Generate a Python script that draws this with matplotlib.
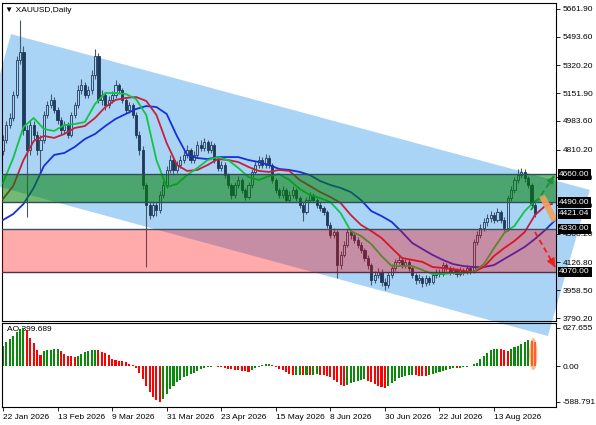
import numpy as np
import matplotlib
matplotlib.use("Agg")
import matplotlib.pyplot as plt
from matplotlib.patches import Polygon, Ellipse

plt.rcParams["font.family"] = ["Liberation Sans", "DejaVu Sans"]

# daily candles, 22 Jan 2026 .. end of Aug 2026 (weekdays)
first_open = 4800
closes = [4870, 4960, 5000, 5140, 5350, 5400, 4930, 4810, 4960, 4900,
          4810, 4870, 5020, 5080, 5110, 5050, 4990, 4930, 4960, 4900,
          5020, 5080, 5170, 5200, 5140, 5170, 5260, 5380, 5110, 5140,
          5080, 5110, 5140, 5200, 5170, 5110, 5050, 5080, 5020, 4900,
          4810, 4595, 4475, 4415, 4475, 4444, 4535, 4595, 4687, 4747,
          4687, 4717, 4747, 4777, 4808, 4747, 4777, 4838, 4820, 4856,
          4808, 4838, 4747, 4700, 4717, 4657, 4595, 4535, 4595, 4626,
          4566, 4523, 4595, 4675, 4717, 4747, 4717, 4760, 4717, 4626,
          4566, 4535, 4566, 4505, 4535, 4566, 4517, 4475, 4432, 4505,
          4535, 4505, 4475, 4456, 4432, 4353, 4293, 4311, 4110, 4172,
          4232, 4311, 4293, 4263, 4232, 4202, 4154, 4111, 4020, 4050,
          4069, 4008, 3990, 4050, 4093, 4130, 4142, 4111, 4130, 4093,
          4050, 4020, 4032, 4002, 4032, 4008, 4050, 4069, 4057, 4111,
          4093, 4069, 4081, 4057, 4081, 4069, 4093, 4069, 4250, 4293,
          4335, 4372, 4396, 4414, 4384, 4432, 4384, 4335, 4517, 4566,
          4626, 4657, 4675, 4638, 4595, 4475, 4421.04]
highs = [4900, 4985, 5030, 5165, 5380, 5595, 5440, 4960, 4990, 4985,
         4925, 4900, 5045, 5105, 5150, 5130, 5070, 5010, 4985, 4980,
         5040, 5100, 5200, 5240, 5220, 5195, 5290, 5420, 5395, 5170,
         5160, 5135, 5165, 5230, 5215, 5185, 5125, 5100, 5095, 5040,
         4920, 4830, 4610, 4500, 4500, 4490, 4560, 4620, 4710, 4775,
         4760, 4740, 4770, 4800, 4840, 4820, 4800, 4860, 4870, 4880,
         4870, 4860, 4850, 4760, 4740, 4735, 4670, 4610, 4615, 4650,
         4640, 4580, 4615, 4695, 4740, 4770, 4765, 4785, 4775, 4730,
         4640, 4580, 4590, 4580, 4560, 4590, 4580, 4530, 4490, 4525,
         4555, 4550, 4520, 4490, 4470, 4445, 4370, 4335, 4325, 4195,
         4255, 4330, 4325, 4305, 4280, 4250, 4215, 4170, 4125, 4075,
         4095, 4085, 4030, 4070, 4115, 4150, 4170, 4160, 4150, 4145,
         4105, 4065, 4055, 4045, 4050, 4045, 4065, 4090, 4085, 4130,
         4125, 4105, 4100, 4095, 4100, 4095, 4110, 4105, 4270, 4315,
         4360, 4395, 4420, 4440, 4430, 4455, 4445, 4400, 4535, 4590,
         4645, 4690, 4700, 4690, 4650, 4610, 4490]
lows = [4780, 4850, 4940, 4985, 5120, 5330, 4900, 4400, 4780, 4870,
        4780, 4670, 4850, 5000, 5060, 5030, 4965, 4900, 4910, 4880,
        4885, 5000, 5060, 5150, 5120, 5120, 5150, 5240, 5090, 5080,
        5050, 5060, 5090, 5120, 5145, 5090, 5030, 5030, 5000, 4880,
        4780, 4570, 4100, 4390, 4400, 4410, 4425, 4515, 4580, 4670,
        4665, 4670, 4700, 4730, 4760, 4730, 4730, 4760, 4800, 4800,
        4790, 4790, 4730, 4680, 4680, 4640, 4575, 4510, 4520, 4575,
        4545, 4505, 4510, 4580, 4660, 4700, 4700, 4700, 4700, 4610,
        4550, 4515, 4520, 4490, 4490, 4520, 4500, 4455, 4380, 4420,
        4490, 4490, 4455, 4440, 4415, 4335, 4275, 4275, 4030, 4090,
        4160, 4220, 4270, 4245, 4215, 4185, 4135, 4090, 3990, 4000,
        4030, 3985, 3960, 3975, 4035, 4075, 4115, 4095, 4095, 4075,
        4030, 3995, 4000, 3980, 3985, 3990, 3995, 4035, 4040, 4045,
        4075, 4050, 4055, 4040, 4045, 4050, 4055, 4055, 4060, 4230,
        4275, 4320, 4350, 4370, 4365, 4370, 4365, 4320, 4320, 4500,
        4550, 4610, 4640, 4615, 4575, 4455, 4400]

# alligator lines (read every 3 bars, shifted forward past the last bar)
lips_bars = list(range(0, 160, 3))
lips = [4608, 4759, 4947, 5002, 4935, 4923, 4959, 4965, 4977, 5087,
        5153, 5153, 5147, 5117, 5020, 4747, 4584, 4602, 4656, 4699,
        4747, 4765, 4747, 4699, 4644, 4626, 4650, 4662, 4626, 4572,
        4535, 4517, 4493, 4426, 4317, 4287, 4238, 4166, 4105, 4105,
        4105, 4081, 4057, 4057, 4063, 4063, 4069, 4117, 4214, 4305,
        4348, 4438, 4499, 4529]
teeth_bars = list(range(0, 160, 3)) + [161]
teeth = [4511, 4590, 4747, 4862, 4893, 4881, 4905, 4941, 4953, 5002,
         5068, 5111, 5123, 5129, 5105, 5020, 4850, 4717, 4681, 4687,
         4717, 4753, 4747, 4735, 4705, 4681, 4675, 4687, 4681, 4626,
         4590, 4553, 4523, 4487, 4414, 4354, 4317, 4275, 4214, 4154,
         4142, 4130, 4099, 4093, 4087, 4075, 4069, 4099, 4166, 4214,
         4257, 4311, 4414, 4469, 4481]
jaw_bars = list(range(0, 163, 3)) + [164]
jaw = [4384, 4420, 4481, 4578, 4711, 4778, 4790, 4826, 4874, 4905,
       4953, 4996, 5026, 5056, 5074, 5068, 5026, 4893, 4778, 4759,
       4753, 4765, 4765, 4765, 4747, 4735, 4717, 4693, 4687, 4675,
       4656, 4620, 4596, 4578, 4553, 4505, 4438, 4408, 4372, 4311,
       4245, 4208, 4172, 4142, 4117, 4105, 4099, 4099, 4111, 4148,
       4184, 4221, 4269, 4323, 4384, 4420]

ao = [324, 394, 443, 502, 562, 610, 627.655, 600, 459, 378,
      259, 189, 243, 259, 270, 275, 286, 243, 205, 173,
      162, 146, 173, 200, 227, 243, 259, 270, 259, 232,
      216, 189, 108, 92, 90, 81, 65, 38, 11, -27,
      -108, -216, -324, -432, -513, -567, -588.791, -540, -459, -378,
      -324, -270, -232, -189, -162, -135, -108, -81, -54, -38,
      -22, -11, -3, -11, -16, -27, -43, -54, -65, -70,
      -76, -81, -92, -65, -38, -16, 11, 27, 36, 22,
      -11, -43, -70, -97, -124, -151, -148, -146, -150, -144,
      -147, -140, -138, -146, -151, -162, -189, -227, -270, -313,
      -335, -313, -281, -259, -243, -227, -216, -243, -270, -297,
      -324, -340, -362, -324, -281, -243, -205, -178, -162, -151,
      -146, -151, -158, -162, -164, -150, -135, -119, -97, -81,
      -65, -54, -38, -40, -27, -16, -11, 2, 27, 54,
      108, 162, 216, 259, 281, 284, 278, 270, 254, 281,
      313, 335, 362, 389, 425, 412, 399.689]

date_ticks = [0, 16, 32, 48, 64, 80, 96, 112, 128, 144]
date_labels = ["22 Jan 2026", "13 Feb 2026", "9 Mar 2026", "31 Mar 2026",
               "23 Apr 2026", "15 May 2026", "8 Jun 2026", "30 Jun 2026",
               "22 Jul 2026", "13 Aug 2026"]
price_ticks = [5661.90, 5493.60, 5320.20, 5151.90, 4983.60, 4810.20,
               4641.90, 4473.60, 4300.20, 4126.80, 3958.50, 3790.20]
ao_ticks = [627.655, 0.0, -588.791]
ao_tick_labels = ["627.655", "0.00", "-588.791"]

green_zone = (4490, 4660)
red_zone = (4070, 4330)
level_labels = [4660.00, 4490.00, 4421.04, 4330.00, 4070.00]

channel_bars = [2.35, 172.1, 159.8, -9.4]
channel_prices = [5510, 4566, 3681, 4632]

up_arrow = ((154.8, 4444), (161.6, 4650))
orange_arrow = ((158.1, 4529), (161.9, 4378))
down_arrow = ((156.0, 4311), (161.9, 4099))

n = len(closes)
x = np.arange(n)
c = np.array(closes, dtype=float)
o = np.array([first_open] + closes[:-1], dtype=float)
h = np.array(highs, dtype=float)
l = np.array(lows, dtype=float)

chan_col = "#aad4f6"
navy = "#1f3a5a"
fs = 6

fig = plt.figure(figsize=(5.96, 4.25), dpi=100)
ax = fig.add_axes([2/596, 104/425, 554/596, 318/425])
ax2 = fig.add_axes([2/596, 18/425, 554/596, 84/425])
xl = (-0.29, 162.17)

# channel, drawn past the right edge like the original picture
chan = Polygon(list(zip(channel_bars, channel_prices)), closed=True,
               facecolor=chan_col, edgecolor="none", zorder=0.5, clip_on=False)
ax.add_patch(chan)

# candles
ax.vlines(x, l, h, color="#45586c", lw=0.8, zorder=2)
up = c >= o
body = np.where(np.abs(c - o) < 3, 3, c - o)
ax.bar(x[up], body[up], bottom=o[up], width=0.62, facecolor=chan_col,
       edgecolor=navy, lw=0.6, zorder=2.1)
ax.bar(x[~up], body[~up], bottom=o[~up], width=0.62, facecolor=navy,
       edgecolor=navy, lw=0.6, zorder=2.1)

ax.plot(jaw_bars, jaw, color="#1a2fd8", lw=1.3, zorder=3)
ax.plot(teeth_bars, teeth, color="#c8203c", lw=1.3, zorder=3)
ax.plot(lips_bars, lips, color="#12c444", lw=1.3, zorder=3)

# zones on top, see-through
ax.axhspan(*green_zone, color="#008000", alpha=0.55, lw=0, zorder=5)
ax.axhspan(*red_zone, color="#ff0000", alpha=0.33, lw=0, zorder=5)
for lev, col in [(4660, "#2c4f58"), (4490, "#2c4f58"), (4330, "#404e5c"), (4070, "#5a2a3e")]:
    ax.axhline(lev, color=col, lw=1.0, zorder=6)

# arrows
(a0, a1) = up_arrow
ax.plot([a0[0], a1[0]], [a0[1], a1[1]], ls=(0, (3, 2)), color="#1f8f3a", lw=1.3, zorder=7)
ax.annotate("", xy=a1, xytext=(a1[0] - 0.8, a1[1] - 24),
            arrowprops=dict(arrowstyle="-|>", color="#1f8f3a", lw=1.2, mutation_scale=10),
            zorder=7, annotation_clip=False)
(b0, b1) = orange_arrow
ax.plot([b0[0], b1[0]], [b0[1], b1[1]], color="#f2a05c", lw=4.5, alpha=0.9,
        solid_capstyle="butt", zorder=7)
(d0, d1) = down_arrow
ax.plot([d0[0], d1[0]], [d0[1], d1[1]], ls=(0, (3, 2)), color="#e82020", lw=1.3, zorder=7)
ax.annotate("", xy=d1, xytext=(d1[0] - 0.6, d1[1] + 22),
            arrowprops=dict(arrowstyle="-|>", color="#e82020", lw=1.2, mutation_scale=12),
            zorder=7, annotation_clip=False)

ax.set_xlim(*xl)
ax.set_ylim(3772.1, 5698.2)
ax.yaxis.tick_right()
ax.set_yticks(price_ticks)
ax.set_yticklabels(["%.2f" % p for p in price_ticks])
ax.tick_params(axis="y", labelsize=fs, length=3, pad=2, width=0.6)
ax.tick_params(axis="x", bottom=False, labelbottom=False)
for s in ax.spines.values():
    s.set_linewidth(0.8)

for lev in level_labels:
    ax.text(1.0058, lev, "%.2f" % lev, transform=ax.get_yaxis_transform(),
            ha="left", va="center", fontsize=fs, color="white", zorder=10,
            bbox=dict(boxstyle="square,pad=0.2", fc="black", ec="none"), clip_on=False)

fig.text(5/596, 1 - 10/425, "\u25bc XAUUSD,Daily", fontsize=fs, va="center")

# AO histogram
ao_arr = np.array(ao)
ao_col = ["#0a8a0a"] + ["#0a8a0a" if ao_arr[i] > ao_arr[i - 1] else "#ff0000" for i in range(1, n)]
ax2.set_facecolor("none")
ax2.bar(x, ao_arr, width=0.6, color=ao_col, zorder=2)
ax2.add_patch(Ellipse((155.5, 198), 2.4, 528, color="#f59a50", alpha=0.65, lw=0, zorder=3))
ax2.text(0.009, 0.917, "AO 399.689", transform=ax2.transAxes, fontsize=fs,
         va="center", ha="left", zorder=1)
ax2.set_xlim(*xl)
ax2.set_ylim(-676, 710)
ax2.yaxis.tick_right()
ax2.set_yticks(ao_ticks)
ax2.set_yticklabels(ao_tick_labels)
ax2.set_xticks(date_ticks)
ax2.set_xticklabels(date_labels, ha="left")
ax2.tick_params(labelsize=fs, length=3, pad=2, width=0.6)
for s in ax2.spines.values():
    s.set_linewidth(0.8)

fig.savefig("out.png", dpi=100)
